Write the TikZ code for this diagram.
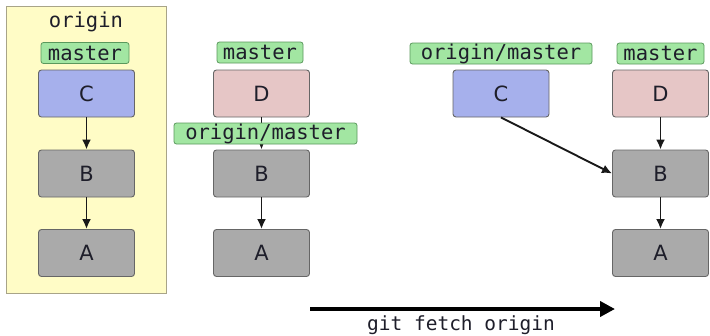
\documentclass[tikz,border=0pt]{standalone}
\usepackage{fontspec}
\setmainfont{DejaVu Sans}
\setmonofont{DejaVu Sans Mono}
\usetikzlibrary{arrows.meta}
\definecolor{repoyellow}{HTML}{FFFCC6}
\definecolor{repoedge}{HTML}{A8A488}
\definecolor{reffill}{HTML}{A2E6A2}
\definecolor{refedge}{HTML}{5A985C}
\definecolor{cblue}{HTML}{A6B0EC}
\definecolor{dpink}{HTML}{E6C6C6}
\definecolor{cgray}{HTML}{AAAAAA}
\definecolor{cedge}{HTML}{666666}
\definecolor{ink}{HTML}{1E1E2A}
\tikzset{
  commit/.style={draw=cedge, line width=0.9pt, rounded corners=3pt,
    minimum width=96pt, minimum height=47pt, inner sep=0pt,
    font=\fontsize{21}{21}\selectfont, text=ink},
  gcommit/.style={commit, fill=cgray},
  reflabel/.style={draw=refedge, fill=reffill, line width=0.8pt, rounded corners=2.5pt,
    minimum height=21pt, inner sep=0pt, font=\ttfamily\fontsize{20.5}{20.5}\selectfont, text=ink},
  parent/.style={-{Latex[length=10pt,width=9pt]}, line width=1.9pt, black!90},
}
\begin{document}
\begin{tikzpicture}[x=1pt,y=-1pt]
\useasboundingbox (0,0) rectangle (710,335);
% the remote repository
\node[draw=repoedge, fill=repoyellow, line width=0.8pt, minimum width=160pt, minimum height=287pt, inner sep=0pt] (remote) at (86,149.5) {};
\node[font=\ttfamily\fontsize{20.5}{20.5}\selectfont, text=ink] (remotename) at (86,22) {origin};
\node[reflabel, minimum width=88pt] (rmaster) at (85,53) {master};
\node[commit, fill=cblue] (rC) at (86.5,93.5) {C};
\node[gcommit] (rB) at (86.5,173.5) {B};
\node[gcommit] (rA) at (86.5,253) {A};
\draw[parent] (rC) -- (rB);
\draw[parent] (rB) -- (rA);
% local repository before the fetch
\node[commit, fill=dpink] (lD) at (261.5,93.5) {D};
\node[gcommit] (lB) at (261.5,173.5) {B};
\node[gcommit] (lA) at (261.5,253) {A};
\draw[parent] (lD) -- (lB);
\draw[parent] (lB) -- (lA);
\node[reflabel, minimum width=86pt] (lmaster) at (260,52.5) {master};
\node[reflabel, minimum width=183pt] (lorigin) at (265.5,133.5) {origin/master};
% local repository after the fetch
\node[commit, fill=cblue] (fC) at (501,93.5) {C};
\node[commit, fill=dpink] (fD) at (660.5,93.5) {D};
\node[gcommit] (fB) at (660.5,173.5) {B};
\node[gcommit] (fA) at (660.5,253) {A};
\draw[parent] (fD) -- (fB);
\draw[parent] (fB) -- (fA);
\draw[parent] (fC.south) -- (fB.west);
\node[reflabel, minimum width=182pt] (forigin) at (501,53.5) {origin/master};
\node[reflabel, minimum width=87pt] (fmaster) at (660.5,53.5) {master};
% the fetch step
\coordinate (fetchstart) at (310,309);
\coordinate (fetchend) at (615,309);
\draw[line width=4pt, -{Triangle[length=15pt,width=15pt]}] (fetchstart) -- (fetchend);
\node[font=\ttfamily\fontsize{19.5}{19.5}\selectfont, text=ink] (fetchcmd) at (461,325) {git fetch origin};
\end{tikzpicture}
\end{document}
